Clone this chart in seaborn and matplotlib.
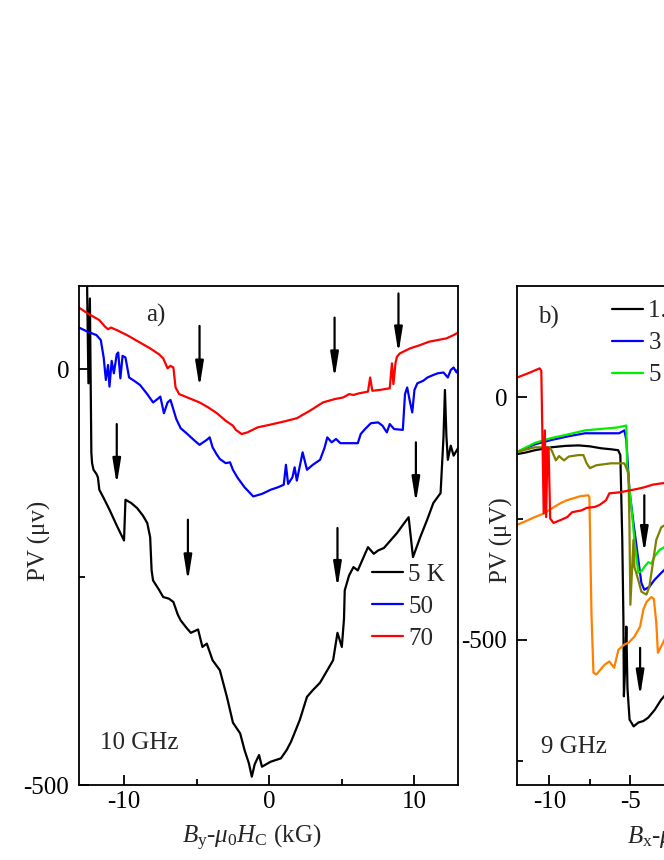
import numpy as np
import pandas as pd
import matplotlib
matplotlib.use("Agg")
import matplotlib.pyplot as plt
import seaborn as sns
from matplotlib.ticker import MultipleLocator
from matplotlib.lines import Line2D

# ---- panel a) 10 GHz : PV vs By - mu0 Hc ----
a_x_5K = [-12.55, -12.45, -12.35, -12.25, -12.2, -12.1, -11.9, -11.8, -11.7, -11.4, -11.0, -10.5,
          -10.0, -9.9, -9.5, -9.1, -8.7, -8.4, -8.2, -8.1, -8.0, -7.6, -7.3, -6.9, -6.6, -6.3,
          -6.1, -5.7, -5.4, -4.9, -4.6, -4.3, -3.9, -3.4, -2.9, -2.5, -2.0, -1.7, -1.4, -1.2,
          -1.0, -0.7, -0.5, 0.1, 0.8, 1.2, 1.5, 2.1, 2.6, 3.0, 3.5, 4.0, 4.4, 4.7, 5.0, 5.15,
          5.2, 5.5, 5.8, 6.1, 6.5, 6.8, 7.2, 7.5, 7.9, 8.4, 8.8, 9.3, 9.6, 9.9, 10.4, 10.9,
          11.3, 11.8, 12.0, 12.1, 12.2, 12.3, 12.5, 12.7, 13.0]
a_y_5K = [110, -17, 85, -100, -113, -121, -126, -130, -145, -155, -169, -188,
          -206, -157, -161, -167, -176, -185, -202, -242, -254, -265, -274, -276, -280, -295,
          -302, -311, -317, -313, -334, -330, -350, -362, -395, -425, -438, -458, -474, -490,
          -475, -464, -478, -472, -468, -458, -448, -422, -394, -386, -377, -362, -350, -317, -334, -300,
          -266, -248, -238, -242, -226, -214, -222, -218, -215, -205, -197, -185, -178, -226, -202, -180,
          -161, -149, -82, -25, -80, -109, -92, -104, -95]

a_x_50K = [-13.1, -12.5, -11.9, -11.6, -11.4, -11.25, -11.1, -11.0, -10.85, -10.7, -10.5, -10.4,
           -10.25, -10.1, -9.9, -9.65, -9.3, -8.9, -8.4, -8.0, -7.7, -7.5, -7.25, -7.0, -6.8, -6.4,
           -6.1, -5.7, -5.2, -4.8, -4.3, -4.1, -3.9, -3.6, -3.4, -3.0, -2.7, -2.5, -2.2, -1.7,
           -1.1, -0.5, 0.1, 0.6, 1.0, 1.15, 1.3, 1.6, 1.75, 1.9, 2.3, 2.6, 3.0, 3.5, 3.8, 4.0,
           4.3, 4.6, 4.9, 5.5, 6.1, 6.3, 6.6, 7.0, 7.5, 7.8, 8.1, 8.3, 8.6, 9.2, 9.35, 9.5,
           9.7, 9.85, 10.0, 10.2, 10.6, 10.9, 11.3, 11.6, 12.0, 12.3, 12.5, 12.7, 12.9, 13.0]
a_y_50K = [50, 45, 41, 35, 14, -13, 5, -21, 10, -5, 18, 20,
           -11, 16, 14, -10, -14, -19, -30, -40, -36, -33, -53, -40, -37, -60,
           -71, -77, -85, -91, -85, -82, -94, -103, -108, -113, -112, -121, -130, -142,
           -153, -150, -145, -142, -139, -115, -138, -130, -118, -134, -100, -121, -115, -109, -95, -82,
           -88, -84, -89, -89, -89, -78, -72, -65, -64, -68, -76, -66, -72, -73, -30, -22,
           -40, -52, -25, -17, -14, -10, -7, -5, -4, -10, -1, 2, -4, 0]

a_x_70K = [-13.1, -12.5, -11.7, -11.3, -11.1, -10.9, -10.5, -9.8, -9.0, -8.2, -7.6, -7.3, -7.1,
           -7.0, -6.8, -6.6, -6.45, -6.2, -5.5, -4.8, -4.2, -3.6, -3.0, -2.5, -2.3, -1.9, -1.5,
           -0.8, 0.0, 1.0, 1.9, 2.8, 3.7, 4.5, 5.1, 5.5, 5.8, 6.2, 6.8, 6.95, 7.1, 7.6, 8.3,
           8.45, 8.55, 8.7, 8.8, 9.0, 9.7, 10.4, 11.0, 11.6, 12.2, 12.7, 13.0]
a_y_70K = [74, 67, 59, 51, 48, 50, 47, 41, 33, 25, 18, 13, 5,
           1, 4, 2, -22, -30, -35, -40, -46, -53, -62, -68, -73, -78, -76,
           -70, -67, -63, -59, -50, -40, -36, -34, -30, -31, -29, -27, -10, -26, -25, -23,
           7, -18, 8, 15, 19, 25, 29, 33, 35, 37, 41, 44]

a_labels = ["5 K", "50", "70"]
a_colors = ["black", "#0000ff", "#ff0000"]

# arrows in a): x, tail (top) and head (bottom)
a_arrow_x = [-4.8, -10.5, -5.6, 4.5, 8.9, 10.1, 4.7]
a_arrow_top = [52, -66, -181, 62, 91, -88, -191]
a_arrow_bot = [-22, -139, -255, -11, 19, -161, -263]

# ---- panel b) 9 GHz : PV vs Bx - mu0 Hc ----
b_x_1K = [-12, -11.5, -10.9, -9.9, -9.0, -8.2, -7.5, -6.8, -6.2, -5.75, -5.62, -5.5, -5.43,
          -5.4, -5.3, -5.25, -5.18, -5.05, -4.8, -4.5, -4.2, -3.9, -3.5, -3.1, -2.6]
b_y_1K = [-117, -114, -109, -103, -100, -99, -101, -105, -107, -109, -119, -294, -459,
          -617, -540, -473, -600, -665, -679, -671, -668, -661, -645, -624, -605]

b_x_3K = [-12, -11.5, -10.9, -9.9, -8.8, -7.8, -6.8, -5.7, -5.37, -5.25, -5.06, -4.81, -4.51,
          -4.32, -4.14, -3.83, -3.52, -3.09, -2.9, -2.6]
b_y_3K = [-113, -105, -97, -88, -80, -74, -74, -74, -68, -88, -191, -259, -335,
          -383, -397, -391, -377, -362, -356, -350]

b_x_5K = [-12, -11.5, -10.9, -9.9, -8.8, -7.8, -6.8, -5.8, -5.25, -5.2, -4.94, -4.75, -4.51,
          -4.3, -4.14, -3.89, -3.7, -3.52, -3.21, -2.9, -2.6]
b_y_5K = [-113, -104, -94, -84, -76, -68, -65, -62, -58, -140, -226, -294, -362,
          -358, -350, -340, -343, -329, -315, -309, -303]

b_x_olive = [-12, -11.5, -10.9, -10.0, -9.85, -9.6, -9.4, -9.1, -8.8, -8.2, -7.9, -7.7, -7.5,
             -7.1, -6.2, -5.37, -5.12, -5.06, -5.0, -4.81, -4.75, -4.51, -4.32, -4.01, -3.83,
             -3.7, -3.4, -3.09, -2.84, -2.6]
b_y_olive = [-113, -108, -103, -103, -110, -130, -121, -130, -122, -119, -119, -136, -146,
             -140, -136, -136, -156, -259, -428, -294, -350, -377, -401, -407, -391,
             -362, -294, -268, -263, -258]

b_x_orange = [-12, -11.5, -10.9, -10.3, -9.8, -9.3, -8.9, -8.5, -8.1, -7.6, -7.53, -7.4, -7.28,
              -7.1, -6.6, -6.3, -6.0, -5.74, -5.37, -5.1, -4.75, -4.4, -4.2, -4.0, -3.7, -3.55,
              -3.4, -3.3, -3.1, -2.8, -2.6]
b_y_orange = [-263, -256, -247, -239, -228, -218, -212, -208, -204, -202, -206, -450, -568,
              -572, -552, -545, -558, -521, -510, -506, -494, -473, -438, -422, -412, -416,
              -465, -527, -514, -494, -480]

b_x_red = [-12, -11.3, -10.6, -10.5, -10.35, -10.28, -10.2, -10.12, -10.05, -9.95, -9.75, -9.3,
           -8.9, -8.6, -8.0, -7.7, -7.2, -6.9, -6.5, -6.4, -6.3, -5.7, -5.2, -4.6, -4.2, -3.6,
           -3.0, -2.6]
b_y_red = [41, 50, 60, 55, -239, -68, -247, -103, -106, -250, -259, -253,
           -247, -237, -233, -228, -226, -222, -212, -205, -198, -196, -193, -189, -186, -180,
           -177, -175]

b_labels = ["1.5 K", "3", "5"]
b_colors = ["black", "#0000ff", "#00ee00", "#808000", "#ff8000", "#ff0000"]

b_arrow_x = [-4.14, -4.4]
b_arrow_top = [-202, -517]
b_arrow_bot = [-321, -617]

# ---- data frames ----
df_a = pd.concat([
    pd.DataFrame({"B": a_x_5K, "PV": a_y_5K, "T": "5 K"}),
    pd.DataFrame({"B": a_x_50K, "PV": a_y_50K, "T": "50"}),
    pd.DataFrame({"B": a_x_70K, "PV": a_y_70K, "T": "70"}),
])
df_b = pd.concat([
    pd.DataFrame({"B": b_x_1K, "PV": b_y_1K, "T": "1.5 K"}),
    pd.DataFrame({"B": b_x_3K, "PV": b_y_3K, "T": "3"}),
    pd.DataFrame({"B": b_x_5K, "PV": b_y_5K, "T": "5"}),
    pd.DataFrame({"B": b_x_olive, "PV": b_y_olive, "T": "olive"}),
    pd.DataFrame({"B": b_x_orange, "PV": b_y_orange, "T": "orange"}),
    pd.DataFrame({"B": b_x_red, "PV": b_y_red, "T": "red"}),
])

sns.set_style("ticks")
plt.rcParams["font.family"] = ["Liberation Serif", "DejaVu Serif"]
plt.rcParams["mathtext.fontset"] = "custom"
plt.rcParams["mathtext.rm"] = "Liberation Serif"
plt.rcParams["mathtext.it"] = "Liberation Serif:italic"
plt.rcParams["axes.unicode_minus"] = False
FS = 18

fig = plt.figure(figsize=(6.64, 8.6), dpi=100)
ax_a = fig.add_axes([79 / 664, 75 / 860, 379 / 664, 499 / 860])
ax_b = fig.add_axes([517 / 664, 75 / 860, 379 / 664, 499 / 860])

sns.lineplot(data=df_a, x="B", y="PV", hue="T", palette=dict(zip(a_labels, a_colors)),
             sort=False, estimator=None, lw=1.6, legend=False, ax=ax_a)
sns.lineplot(data=df_b, x="B", y="PV", hue="T",
             palette=dict(zip(b_labels + ["olive", "orange", "red"], b_colors)),
             sort=False, estimator=None, lw=1.6, legend=False, ax=ax_b)

arrow_style = dict(arrowstyle="-|>,head_length=0.75,head_width=0.12", color="black",
                   lw=1.6, mutation_scale=20, shrinkA=0, shrinkB=0)
for x, y0, y1 in zip(a_arrow_x, a_arrow_top, a_arrow_bot):
    ax_a.annotate("", xy=(x, y1), xytext=(x, y0), arrowprops=arrow_style)
for x, y0, y1 in zip(b_arrow_x, b_arrow_top, b_arrow_bot):
    ax_b.annotate("", xy=(x, y1), xytext=(x, y0), arrowprops=arrow_style)

ax_a.set_xlim(-13.1, 13.0)
ax_a.set_ylim(-500, 100)
ax_a.xaxis.set_major_locator(MultipleLocator(10))
ax_a.xaxis.set_minor_locator(MultipleLocator(5))
ax_b.set_xlim(-12, 11.4)
ax_b.set_ylim(-800, 230)
ax_b.xaxis.set_major_locator(MultipleLocator(5))
ax_b.xaxis.set_minor_locator(MultipleLocator(2.5))

for ax in (ax_a, ax_b):
    ax.yaxis.set_major_locator(MultipleLocator(500))
    ax.yaxis.set_minor_locator(MultipleLocator(250))
    ax.tick_params(which="both", direction="in", top=False, right=False,
                   labelsize=FS, width=1.3, colors="black")
    ax.tick_params(axis="y", which="both", pad=7)
    ax.tick_params(axis="x", which="both", pad=4)
    ax.tick_params(which="major", length=7)
    ax.tick_params(which="minor", length=4)
    for s in ax.spines.values():
        s.set_linewidth(1.3)
        s.set_color("black")
        s.set_visible(True)

ax_a.set_xlabel(r"$B_\mathrm{y}$-$\mu_\mathrm{0}H_\mathrm{C}$ (kG)", fontsize=FS)
ax_a.set_ylabel("PV (μv)", fontsize=FS)
ax_a.xaxis.set_label_coords(0.456, -0.076)
ax_a.yaxis.set_label_coords(-0.075, 0.49)
ax_b.set_xlabel(r"$B_\mathrm{x}$-$\mu_\mathrm{0}H_\mathrm{C}$ (kG)", fontsize=FS)
ax_b.set_ylabel("PV (μV)", fontsize=FS)
ax_b.xaxis.set_label_coords(0.475, -0.076)
ax_b.yaxis.set_label_coords(-0.01, 0.49)

ax_a.text(-7.8, 65, "a)", fontsize=FS, ha="center", va="center")
ax_a.text(-11.65, -450, "10 GHz", fontsize=FS, ha="left", va="center")
ax_b.text(-10.06, 165, "b)", fontsize=FS, ha="center", va="center")
ax_b.text(-10.5, -722, "9 GHz", fontsize=FS, ha="left", va="center")

a_handles = [Line2D([], [], color=c, lw=1.6) for c in a_colors]
ax_a.legend(a_handles, a_labels, loc="upper left", bbox_to_anchor=(0.773, 0.444),
            frameon=False, fontsize=FS, handlelength=1.25, handletextpad=0.2,
            labelspacing=0.38, borderpad=0, borderaxespad=0)
b_handles = [Line2D([], [], color=c, lw=1.6) for c in b_colors[:3]]
ax_b.legend(b_handles, b_labels, loc="upper left", bbox_to_anchor=(0.2507, 0.972),
            frameon=False, fontsize=FS, handlelength=1.25, handletextpad=0.2,
            labelspacing=0.38, borderpad=0, borderaxespad=0)

fig.savefig("out.png", dpi=100)
